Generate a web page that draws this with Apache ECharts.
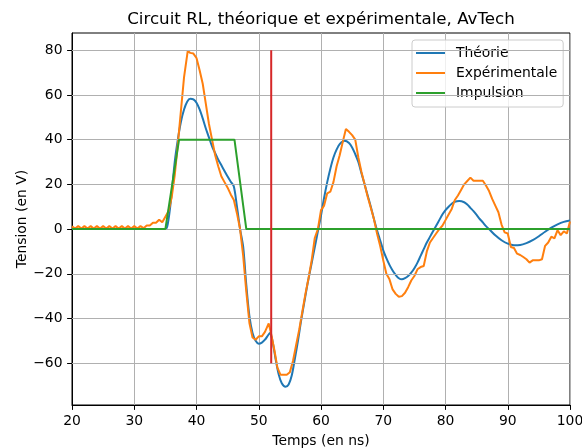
<!DOCTYPE html>
<html>
<head>
<meta charset="utf-8">
<script src="https://cdn.jsdelivr.net/npm/echarts@6/dist/echarts.min.js"></script>
<style>html,body{margin:0;padding:0;background:#fff;}#c{width:582px;height:448px;}</style>
</head>
<body>
<div id="c"></div>
<script>
// ---- Data ----
const xTicks = [20, 30, 40, 50, 60, 70, 80, 90, 100];
const yTicks = [-60, -40, -20, 0, 20, 40, 60, 80];

const theoT = [20, 35, 35.4, 35.9, 36.5, 37, 37.5, 38, 38.5, 39, 39.5, 40, 40.5, 41, 41.5, 42, 42.5, 43, 43.5, 44, 44.5, 45, 45.5, 46, 46.5, 47, 47.5, 48, 48.5, 49, 49.5, 50, 50.5, 51, 51.5, 51.8, 52.2, 52.7, 53.2, 53.7, 54.3, 54.8, 55.3, 55.8, 56.3, 56.8, 57.3, 57.8, 58.3, 58.8, 59.5, 60, 60.5, 61, 61.5, 62, 62.5, 63, 63.8, 64.5, 65, 65.5, 66, 66.5, 67, 67.5, 68, 68.5, 69, 69.5, 70, 70.5, 71, 71.5, 72, 72.5, 73, 73.5, 74, 74.5, 75, 75.5, 76, 76.5, 77, 77.5, 78, 78.5, 79, 79.5, 80, 80.5, 81, 81.5, 82.2, 83, 83.5, 84, 84.5, 85, 85.5, 86, 86.5, 87, 88, 89, 90, 91, 92, 93, 94, 95, 96, 97, 98, 99, 100];
const theoV = [0, 0, 2.5, 13, 30, 40, 48, 53.5, 57, 58.3, 58, 56.5, 53.5, 49.5, 45, 41, 37, 34, 31, 28.5, 26, 23.5, 21.2, 19, 10, 0, -8, -25, -39, -46.5, -50, -51.3, -50.8, -49.5, -47.5, -46.5, -50, -58, -65, -69, -70.5, -69.5, -65.5, -58, -50, -41, -33, -25, -18, -11, -1, 6, 14, 21, 27, 32, 35.5, 38, 39.5, 38.5, 36.5, 33.5, 30, 25, 20, 15, 10, 4.5, -0.5, -5, -9.5, -13, -16, -18.5, -20.5, -22, -22.5, -22, -21, -19.5, -17.5, -15, -12, -9, -6, -3.5, -1, 1.5, 4, 6.5, 8.5, 10, 11.3, 12.2, 12.5, 12, 11, 9.5, 8, 6.3, 4.5, 3, 1.3, 0, -2.8, -5, -6.5, -7.2, -7.1, -6.3, -5, -3.2, -1.2, 0.6, 2.1, 3.2, 3.8];

const expT = [20, 20.5, 21, 21.5, 22, 22.5, 23, 23.5, 24, 24.5, 25, 25.5, 26, 26.5, 27, 27.5, 28, 28.5, 29, 29.5, 30, 30.5, 31, 31.5, 32, 32.5, 33, 33.5, 34, 34.5, 35, 35.5, 36, 36.5, 37, 37.5, 38, 38.6, 39, 39.5, 40, 40.5, 41, 41.5, 42, 42.5, 43, 43.5, 44, 44.5, 45, 45.5, 46, 46.5, 47, 47.5, 48, 48.5, 49, 49.5, 50, 50.5, 51, 51.6, 52, 52.5, 53, 53.5, 54, 54.5, 55, 55.5, 56, 56.5, 57, 57.5, 58, 58.5, 59, 59.5, 60, 60.5, 61, 61.5, 62, 62.5, 63, 63.5, 64, 64.5, 65, 65.5, 66, 66.5, 67, 67.5, 68, 68.5, 69, 69.5, 70, 70.5, 71, 71.5, 72, 72.5, 73, 73.5, 74, 74.5, 75, 75.5, 76, 76.5, 77, 77.5, 78, 78.5, 79, 79.5, 80, 80.5, 81, 81.5, 82, 82.5, 83, 83.5, 84, 84.5, 85, 85.5, 86, 86.5, 87, 87.5, 88, 88.5, 89, 89.5, 90, 90.5, 91, 91.5, 92, 92.5, 93, 93.5, 94, 94.5, 95, 95.5, 96, 96.5, 97, 97.5, 98, 98.5, 99, 99.5, 100];
const expV = [1.2, 0.2, 1.3, 0.2, 1.3, 0.2, 1.3, 0.2, 1.3, 0.2, 1.3, 0.2, 1.3, 0.2, 1.3, 0.2, 1.3, 0.2, 1.3, 0.2, 1.3, 0.2, 1.3, 0.4, 1.6, 1.6, 2.8, 2.8, 4.2, 3.0, 5.5, 8, 14, 24, 38, 53, 68, 79.8, 78.8, 78.5, 76.5, 71, 65, 56, 47, 40, 33, 28, 23.5, 21, 18.5, 15.5, 13, 7, 0, -12, -28, -42, -48.5, -49.5, -48, -48, -46, -42.2, -47, -54, -62, -65.2, -65.2, -65.2, -64, -59, -52, -45, -37, -29, -22, -14, -4, 0, 8.5, 10.5, 16, 16.7, 21, 28, 33, 39, 44.8, 43.5, 42, 40, 32, 25.5, 20, 14.5, 9.5, 4.5, -2, -7.5, -14, -20, -22.5, -27, -29, -30.3, -30, -28.5, -26, -23, -21, -18, -17, -16.5, -10, -6, -4, -2, 0, 1.5, 4, 6.5, 9, 13, 15, 17.5, 20, 21.5, 23, 21.6, 21.6, 21.6, 21.6, 19.5, 17, 13.5, 10.5, 7.5, 2, -1.5, -2, -8, -8.5, -11, -11.6, -12.5, -13.5, -15, -14, -14, -14, -13.5, -7.5, -6, -3.4, -4.2, -0.5, -2.7, -1, -2, 3.4];

const impT = [20, 35, 37.2, 46.1, 48, 100];
const impV = [0, 0, 40, 40, 0, 0];

const markT = [52, 52];
const markV = [-60, 80];

const names = ['Théorie', 'Expérimentale', 'Impulsion'];

// ---- Chart ----
const zip = (a, b) => a.map((v, i) => [v, b[i]]);
const FONT = 'DejaVu Sans';
const FS = 13.9;
const chart = echarts.init(document.getElementById('c'), null, {renderer: 'canvas'});
const lw = 2;
chart.setOption({
  animation: false,
  backgroundColor: '#ffffff',
  textStyle: {fontFamily: FONT},
  title: {
    text: 'Circuit RL, théorique et expérimentale, AvTech',
    left: 321, top: 11, textAlign: 'center', padding: 0,
    textStyle: {fontFamily: FONT, fontSize: 16.7, fontWeight: 'normal', color: '#000'}
  },
  grid: {left: 72, right: 12, top: 33, bottom: 43, show: true, borderColor: '#000', borderWidth: 1,
    backgroundColor: 'transparent', containLabel: false, outerBoundsMode: 'none'},
  legend: {
    data: names, orient: 'vertical', left: 412, top: 40,
    icon: 'rect', itemWidth: 29, itemHeight: 2, itemGap: 4,
    padding: [5, 6, 6, 4],
    backgroundColor: 'rgba(255,255,255,0.8)', borderColor: '#cccccc', borderWidth: 1, borderRadius: 3,
    textStyle: {fontFamily: FONT, fontSize: FS, color: '#000', lineHeight: 16, padding: [0, 0, 0, 6]}
  },
  xAxis: {
    type: 'value', min: 20, max: 100, interval: 10,
    name: 'Temps (en ns)', nameLocation: 'middle', nameGap: 29, nameMoveOverlap: false,
    nameTextStyle: {fontFamily: FONT, fontSize: FS, color: '#000'},
    axisLine: {show: true, onZero: false, lineStyle: {color: '#000', width: 1}},
    axisTick: {show: true, inside: false, length: 4.9, lineStyle: {color: '#000', width: 1}},
    axisLabel: {fontFamily: FONT, fontSize: FS, color: '#000', margin: 9},
    splitLine: {show: true, lineStyle: {color: '#b0b0b0', width: 1}}
  },
  yAxis: {
    type: 'value', min: -78.7, max: 87.7,
    name: 'Tension (en V)', nameLocation: 'middle', nameGap: 43, nameMoveOverlap: false,
    nameTextStyle: {fontFamily: FONT, fontSize: FS, color: '#000'},
    axisLine: {show: true, onZero: false, lineStyle: {color: '#000', width: 1}},
    axisTick: {show: true, inside: false, length: 4.9, customValues: yTicks, lineStyle: {color: '#000', width: 1}},
    axisLabel: {fontFamily: FONT, fontSize: FS, color: '#000', margin: 9.5, customValues: yTicks,
      formatter: v => (v < 0 ? '\u2212' + Math.abs(v) : String(v))},
    splitLine: {show: false}
  },
  series: [
    {
      name: 'gridY', type: 'line', z: 1, data: [[20, 0]], symbol: 'none', silent: true,
      lineStyle: {opacity: 0},
      markLine: {silent: true, symbol: ['none', 'none'], label: {show: false}, animation: false,
        lineStyle: {color: '#b0b0b0', width: 1, type: 'solid'},
        emphasis: {disabled: true},
        data: yTicks.map(v => ({yAxis: v}))}
    },
    {name: names[0], type: 'line', z: 3, data: zip(theoT, theoV), symbol: 'none', smooth: 0.3,
      lineStyle: {color: '#1f77b4', width: lw}, itemStyle: {color: '#1f77b4'}},
    {name: names[1], type: 'line', z: 4, data: zip(expT, expV), symbol: 'none',
      lineStyle: {color: '#ff7f0e', width: lw}, itemStyle: {color: '#ff7f0e'}},
    {name: names[2], type: 'line', z: 5, data: zip(impT, impV), symbol: 'none',
      lineStyle: {color: '#2ca02c', width: lw}, itemStyle: {color: '#2ca02c'}},
    {name: 'marker', type: 'line', z: 6, data: zip(markT, markV), symbol: 'none',
      lineStyle: {color: '#d62728', width: lw}, itemStyle: {color: '#d62728'}}
  ]
});
</script>
</body>
</html>
